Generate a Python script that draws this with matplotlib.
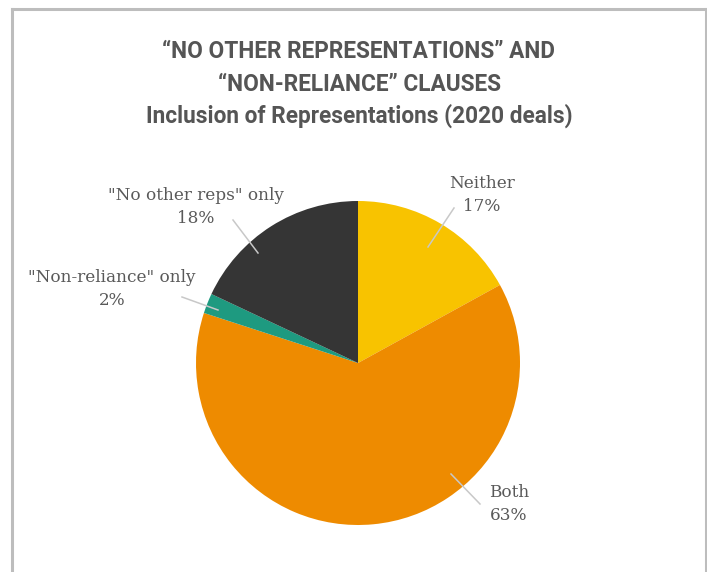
import matplotlib
matplotlib.use("Agg")
import matplotlib.pyplot as plt
from matplotlib.lines import Line2D

categories = ["Neither", "Both", "\"Non-reliance\" only", "\"No other reps\" only"]
values = [17, 63, 2, 18]
colors = ["#F8C300", "#EE8B00", "#1E9A80", "#353535"]
title_lines = ["\u201cNO OTHER REPRESENTATIONS\u201d AND", "\u201cNON-RELIANCE\u201d CLAUSES",
               "Inclusion of Representations (2020 deals)"]

W, H = 707, 572
fig = plt.figure(figsize=(W / 100, H / 100), dpi=100)
fig.patch.set_facecolor("white")

# border
bc = "#BDBDBD"
fig.add_artist(Line2D([11.5 / W, 11.5 / W], [0, 1 - 8.5 / H], color=bc, lw=2.2, transform=fig.transFigure))
fig.add_artist(Line2D([11.5 / W, 705.5 / W], [1 - 8.5 / H, 1 - 8.5 / H], color=bc, lw=2.2, transform=fig.transFigure))
fig.add_artist(Line2D([705.5 / W, 705.5 / W], [0, 1 - 8.5 / H], color=bc, lw=2.2, transform=fig.transFigure))

# titles
tc = "#555555"
for yv, line in zip([52, 85, 116], title_lines):
    fig.text(359 / W, 1 - yv / H, line, ha="center", va="center", fontsize=16.3,
             fontweight="bold", color=tc, family="Roboto")

cx, cy, r = 358, 363, 162
ax = fig.add_axes([(cx - r) / W, (H - cy - r) / H, 2 * r / W, 2 * r / H])
ax.pie(values, colors=colors, startangle=90, counterclock=False, radius=1,
       wedgeprops=dict(linewidth=0))
ax.set_xlim(-1, 1)
ax.set_ylim(-1, 1)
ax.set_aspect("equal")
ax.axis("off")

def px(x, y):
    return ((x - cx) / r, (cy - y) / r)

# label layout (pixel positions): line start, line end, text center
layout = [
    ((428, 247), (454, 208), (482, 195)),
    ((451, 474), (480, 504), (509, 504)),
    ((218, 310), (182, 297), (112, 289)),
    ((258, 253), (233, 220), (196, 207)),
]
lc = "#C8C8C8"
for cat, v, (p0, p1, pt) in zip(categories, values, layout):
    a = px(*p0); b = px(*p1); t = px(*pt)
    ax.add_line(Line2D([a[0], b[0]], [a[1], b[1]], color=lc, lw=1.1, clip_on=False))
    ax.text(t[0], t[1], f"{cat}\n{v}%", ha="center", va="center", fontsize=12.2,
            family="DejaVu Serif", color="#595959", linespacing=1.4, clip_on=False)

fig.savefig("out.png", dpi=100, facecolor="white")
